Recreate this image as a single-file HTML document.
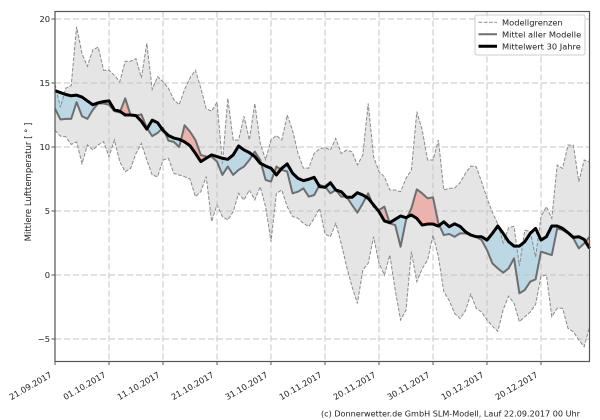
<!DOCTYPE html>
<html>
<head>
<meta charset="utf-8">
<style>
  html, body { margin:0; padding:0; background:#ffffff; }
  body { width:600px; height:420px; overflow:hidden; }
  svg { display:block; }
  text { font-family: "DejaVu Sans", "Liberation Sans", sans-serif; fill:#222; }
</style>
</head>
<body>
<svg width="600" height="420" viewBox="0 0 600 420" xmlns="http://www.w3.org/2000/svg">
  <rect x="0" y="0" width="600" height="420" fill="#ffffff"/>

  <g transform="translate(55 275) scale(5.4 -12.8)">
    <defs>
      <clipPath id="belowC" clipPathUnits="userSpaceOnUse">
        <polygon points="0,14.4 1,14.25 2,14.1 3,14 4,14.05 5,13.9 6,13.6 7,13.3 8,13.45 9,13.55 10,13.6 11,12.9 12,12.8 13,12.5 14,12.5 15,12.45 16,12 17,11.4 18,12.1 19,11.9 20,11.3 21,10.9 22,10.7 23,10.6 24,10.4 25,10.1 26,9.51 27,8.86 28,9.12 29,9.38 30,9.25 31,9.12 32,9.04 33,9.38 34,10.08 35,9.77 36,9.56 37,9.25 38,8.73 39,8.52 40,8.34 41,7.82 42,8.34 43,8.68 44,7.95 45,7.55 46,7.37 47,7.48 48,7.63 49,6.9 50,6.85 51,7.21 52,6.64 53,6.51 54,6.07 55,6.07 56,6.43 57,6.25 58,5.99 59,5.47 60,4.95 61,4.22 62,4.09 63,4.35 64,4.61 65,4.48 66,4.69 67,4.42 68,3.9 69,3.98 70,3.98 71,3.82 72,4.16 73,3.77 74,4 75,3.8 76,3.38 77,3.12 78,2.99 79,2.99 80,2.73 81,3.25 82,3.83 83,3.25 84,2.6 85,2.26 86,2.26 87,2.6 88,3.25 89,3.64 90,2.73 91,2.99 92,3.83 93,3.83 94,3.64 95,3.31 96,2.94 97,2.99 98,2.78 99,2.08 99,-10 0,-10"/>
      </clipPath>
      <clipPath id="aboveC" clipPathUnits="userSpaceOnUse">
        <polygon points="0,14.4 1,14.25 2,14.1 3,14 4,14.05 5,13.9 6,13.6 7,13.3 8,13.45 9,13.55 10,13.6 11,12.9 12,12.8 13,12.5 14,12.5 15,12.45 16,12 17,11.4 18,12.1 19,11.9 20,11.3 21,10.9 22,10.7 23,10.6 24,10.4 25,10.1 26,9.51 27,8.86 28,9.12 29,9.38 30,9.25 31,9.12 32,9.04 33,9.38 34,10.08 35,9.77 36,9.56 37,9.25 38,8.73 39,8.52 40,8.34 41,7.82 42,8.34 43,8.68 44,7.95 45,7.55 46,7.37 47,7.48 48,7.63 49,6.9 50,6.85 51,7.21 52,6.64 53,6.51 54,6.07 55,6.07 56,6.43 57,6.25 58,5.99 59,5.47 60,4.95 61,4.22 62,4.09 63,4.35 64,4.61 65,4.48 66,4.69 67,4.42 68,3.9 69,3.98 70,3.98 71,3.82 72,4.16 73,3.77 74,4 75,3.8 76,3.38 77,3.12 78,2.99 79,2.99 80,2.73 81,3.25 82,3.83 83,3.25 84,2.6 85,2.26 86,2.26 87,2.6 88,3.25 89,3.64 90,2.73 91,2.99 92,3.83 93,3.83 94,3.64 95,3.31 96,2.94 97,2.99 98,2.78 99,2.08 99,30 0,30"/>
      </clipPath>
    </defs>

    <!-- model range band -->
    <polygon fill="#d3d3d3" fill-opacity="0.6" stroke="none"
      points="0,14.9 1,13.1 2,14.6 3,14.8 4,19.4 5,17.3 6,16.3 7,17.6 8,17.8 9,16 10,16 11,15.6 12,15.1 13,16.7 14,16.7 15,16.9 16,15.4 17,18.1 18,14.5 19,15.5 20,15.1 21,14.6 22,13.7 23,13.3 24,14.5 25,15.4 26,16 27,14.6 28,13 29,12.8 30,13.5 31,8.7 32,13.8 33,10.55 34,10.55 35,12.4 36,10.55 37,13.4 38,10.3 39,9 40,10.55 41,10.9 42,10.55 43,12.5 44,11.3 45,9.5 46,8.35 47,8.35 48,9.5 49,9.85 50,9.95 51,9.76 52,10.67 53,9.5 54,9.76 55,9.63 56,8.6 57,9.37 58,13.4 59,9.24 60,8.07 61,7.68 62,6.64 63,6.64 64,6.51 65,7.55 66,8.2 67,12.76 68,11.33 69,8.98 70,8.98 71,10.54 72,6.64 73,6.77 74,6.8 75,7.2 76,7.94 77,8.51 78,8.46 79,7.29 80,6 81,4.9 82,4 83,2.5 84,3.7 85,3.8 86,0.7 87,3.5 88,3.4 89,1.4 90,4.56 91,5.34 92,4.43 93,8.59 94,8.33 95,10.15 96,10.15 97,7.29 98,8.98 99,8.85 99,-4 98,-5.6 97,-5.08 96,-4.43 95,-4.17 94,-2.6 93,-2.6 92,-3.26 91,0 90,-0.1 89,-2.3 88,-2.9 87,-3.26 86,-3.65 85,-2.2 84,-1.65 83,-2.7 82,-4.4 81,-4 80,-3.5 79,-2.9 78,-2.6 77,-1.5 76,-2.8 75,-3.4 74,-3 73,-2 72,-1.3 71,1.43 70,3.12 69,1.17 68,0.5 67,-0.52 66,1.82 65,-2.74 64,-3.52 63,-1.17 62,1.56 61,0 60,0.91 59,2.99 58,0.91 57,0.39 56,-2.22 55,-0.91 54,0.65 53,2.47 52,4.03 51,2.99 50,3.2 49,5.2 48,4.43 47,3.78 46,4.04 45,4.43 44,4.56 43,5.34 42,6.64 41,6.38 40,2.6 39,5.34 38,6.9 37,5.86 36,6.64 35,5.86 34,6.38 33,4.95 32,4.3 31,4.56 30,5.47 29,4.17 28,7.69 27,6.51 26,6.12 25,7.5 24,7.68 23,7.81 22,7.94 21,9.11 20,8.98 19,7.68 18,7.81 17,8.98 16,10.29 15,9.5 14,8.33 13,8.07 12,8.85 11,10.55 10,9.24 9,10.42 8,10.16 7,9.77 6,10.16 5,8.7 4,10.4 3,10.2 2,10.8 1,10.85 0,11.3"/>

    <!-- blue: model mean below 30y mean -->
    <polygon clip-path="url(#belowC)" fill="#9fcfe3" fill-opacity="0.6" stroke="none"
      points="0,13 1,12.15 2,12.2 3,12.2 4,13.5 5,12.4 6,12.2 7,12.9 8,13.4 9,13.4 10,13.3 11,12.8 12,12.7 13,13.8 14,12.5 15,12.45 16,12.55 17,11.5 18,10.85 19,11.1 20,11.5 21,10.5 22,10.4 23,10 24,11.7 25,11.2 26,10.55 27,9.38 28,9.25 29,9.25 30,8.86 31,7.82 32,8.47 33,7.82 34,8.21 35,8.47 36,8.99 37,9.64 38,8.99 39,7.43 40,7.3 41,8.47 42,8.21 43,8.08 44,6.38 45,6.51 46,6.77 47,6.12 48,6.25 49,7.04 50,6.9 51,6.38 52,6.64 53,6.12 54,6.12 55,5.47 56,4.87 57,5.6 58,6.38 59,5.34 60,5.08 61,5.34 62,4.03 63,3.9 64,2.21 65,4.29 66,5.21 67,6.69 68,6.38 69,5.99 70,6.07 71,4.03 72,3.12 73,3.2 74,2.99 75,3.25 76,3.25 77,3.12 78,2.99 79,2.73 80,1.95 81,0.91 82,0.52 83,0.18 84,0.52 85,1.3 86,-1.43 87,-1.17 88,-0.52 89,-0.34 90,1.82 91,1.69 92,1.56 93,3.64 94,3.51 95,3.25 96,2.86 97,2.08 98,2.47 99,2.99 99,30 0,30"/>

    <!-- red: model mean above 30y mean -->
    <polygon clip-path="url(#aboveC)" fill="#f4897b" fill-opacity="0.55" stroke="none"
      points="0,13 1,12.15 2,12.2 3,12.2 4,13.5 5,12.4 6,12.2 7,12.9 8,13.4 9,13.4 10,13.3 11,12.8 12,12.7 13,13.8 14,12.5 15,12.45 16,12.55 17,11.5 18,10.85 19,11.1 20,11.5 21,10.5 22,10.4 23,10 24,11.7 25,11.2 26,10.55 27,9.38 28,9.25 29,9.25 30,8.86 31,7.82 32,8.47 33,7.82 34,8.21 35,8.47 36,8.99 37,9.64 38,8.99 39,7.43 40,7.3 41,8.47 42,8.21 43,8.08 44,6.38 45,6.51 46,6.77 47,6.12 48,6.25 49,7.04 50,6.9 51,6.38 52,6.64 53,6.12 54,6.12 55,5.47 56,4.87 57,5.6 58,6.38 59,5.34 60,5.08 61,5.34 62,4.03 63,3.9 64,2.21 65,4.29 66,5.21 67,6.69 68,6.38 69,5.99 70,6.07 71,4.03 72,3.12 73,3.2 74,2.99 75,3.25 76,3.25 77,3.12 78,2.99 79,2.73 80,1.95 81,0.91 82,0.52 83,0.18 84,0.52 85,1.3 86,-1.43 87,-1.17 88,-0.52 89,-0.34 90,1.82 91,1.69 92,1.56 93,3.64 94,3.51 95,3.25 96,2.86 97,2.08 98,2.47 99,2.99 99,-10 0,-10"/>
  </g>

  <!-- grid -->
  <g stroke="#c4c4c4" stroke-width="1" stroke-dasharray="6,3" fill="none">
    <line x1="55" y1="19" x2="589.5" y2="19"/>
    <line x1="55" y1="83" x2="589.5" y2="83"/>
    <line x1="55" y1="147" x2="589.5" y2="147"/>
    <line x1="55" y1="211" x2="589.5" y2="211"/>
    <line x1="55" y1="275" x2="589.5" y2="275"/>
    <line x1="55" y1="339" x2="589.5" y2="339"/>
    <line x1="109" y1="11.5" x2="109" y2="361.5"/>
    <line x1="163" y1="11.5" x2="163" y2="361.5"/>
    <line x1="217" y1="11.5" x2="217" y2="361.5"/>
    <line x1="271" y1="11.5" x2="271" y2="361.5"/>
    <line x1="325" y1="11.5" x2="325" y2="361.5"/>
    <line x1="379" y1="11.5" x2="379" y2="361.5"/>
    <line x1="433" y1="11.5" x2="433" y2="361.5"/>
    <line x1="487" y1="11.5" x2="487" y2="361.5"/>
    <line x1="541" y1="11.5" x2="541" y2="361.5"/>
  </g>

  <g transform="translate(55 275) scale(5.4 -12.8)" fill="none">
    <!-- model limits (dashed) -->
    <polyline vector-effect="non-scaling-stroke" stroke="#8a8a8a" stroke-width="1" stroke-dasharray="3.7,1.6"
      points="0,14.9 1,13.1 2,14.6 3,14.8 4,19.4 5,17.3 6,16.3 7,17.6 8,17.8 9,16 10,16 11,15.6 12,15.1 13,16.7 14,16.7 15,16.9 16,15.4 17,18.1 18,14.5 19,15.5 20,15.1 21,14.6 22,13.7 23,13.3 24,14.5 25,15.4 26,16 27,14.6 28,13 29,12.8 30,13.5 31,8.7 32,13.8 33,10.55 34,10.55 35,12.4 36,10.55 37,13.4 38,10.3 39,9 40,10.55 41,10.9 42,10.55 43,12.5 44,11.3 45,9.5 46,8.35 47,8.35 48,9.5 49,9.85 50,9.95 51,9.76 52,10.67 53,9.5 54,9.76 55,9.63 56,8.6 57,9.37 58,13.4 59,9.24 60,8.07 61,7.68 62,6.64 63,6.64 64,6.51 65,7.55 66,8.2 67,12.76 68,11.33 69,8.98 70,8.98 71,10.54 72,6.64 73,6.77 74,6.8 75,7.2 76,7.94 77,8.51 78,8.46 79,7.29 80,6 81,4.9 82,4 83,2.5 84,3.7 85,3.8 86,0.7 87,3.5 88,3.4 89,1.4 90,4.56 91,5.34 92,4.43 93,8.59 94,8.33 95,10.15 96,10.15 97,7.29 98,8.98 99,8.85"/>
    <polyline vector-effect="non-scaling-stroke" stroke="#8a8a8a" stroke-width="1" stroke-dasharray="3.7,1.6"
      points="0,11.3 1,10.85 2,10.8 3,10.2 4,10.4 5,8.7 6,10.16 7,9.77 8,10.16 9,10.42 10,9.24 11,10.55 12,8.85 13,8.07 14,8.33 15,9.5 16,10.29 17,8.98 18,7.81 19,7.68 20,8.98 21,9.11 22,7.94 23,7.81 24,7.68 25,7.5 26,6.12 27,6.51 28,7.69 29,4.17 30,5.47 31,4.56 32,4.3 33,4.95 34,6.38 35,5.86 36,6.64 37,5.86 38,6.9 39,5.34 40,2.6 41,6.38 42,6.64 43,5.34 44,4.56 45,4.43 46,4.04 47,3.78 48,4.43 49,5.2 50,3.2 51,2.99 52,4.03 53,2.47 54,0.65 55,-0.91 56,-2.22 57,0.39 58,0.91 59,2.99 60,0.91 61,0 62,1.56 63,-1.17 64,-3.52 65,-2.74 66,1.82 67,-0.52 68,0.5 69,1.17 70,3.12 71,1.43 72,-1.3 73,-2 74,-3 75,-3.4 76,-2.8 77,-1.5 78,-2.6 79,-2.9 80,-3.5 81,-4 82,-4.4 83,-2.7 84,-1.65 85,-2.2 86,-3.65 87,-3.26 88,-2.9 89,-2.3 90,-0.1 91,0 92,-3.26 93,-2.6 94,-2.6 95,-4.17 96,-4.43 97,-5.08 98,-5.6 99,-4"/>

    <!-- mean of all models -->
    <polyline vector-effect="non-scaling-stroke" stroke="#6e6e6e" stroke-width="2" stroke-linejoin="round"
      points="0,13 1,12.15 2,12.2 3,12.2 4,13.5 5,12.4 6,12.2 7,12.9 8,13.4 9,13.4 10,13.3 11,12.8 12,12.7 13,13.8 14,12.5 15,12.45 16,12.55 17,11.5 18,10.85 19,11.1 20,11.5 21,10.5 22,10.4 23,10 24,11.7 25,11.2 26,10.55 27,9.38 28,9.25 29,9.25 30,8.86 31,7.82 32,8.47 33,7.82 34,8.21 35,8.47 36,8.99 37,9.64 38,8.99 39,7.43 40,7.3 41,8.47 42,8.21 43,8.08 44,6.38 45,6.51 46,6.77 47,6.12 48,6.25 49,7.04 50,6.9 51,6.38 52,6.64 53,6.12 54,6.12 55,5.47 56,4.87 57,5.6 58,6.38 59,5.34 60,5.08 61,5.34 62,4.03 63,3.9 64,2.21 65,4.29 66,5.21 67,6.69 68,6.38 69,5.99 70,6.07 71,4.03 72,3.12 73,3.2 74,2.99 75,3.25 76,3.25 77,3.12 78,2.99 79,2.73 80,1.95 81,0.91 82,0.52 83,0.18 84,0.52 85,1.3 86,-1.43 87,-1.17 88,-0.52 89,-0.34 90,1.82 91,1.69 92,1.56 93,3.64 94,3.51 95,3.25 96,2.86 97,2.08 98,2.47 99,2.99"/>

    <!-- 30 year mean -->
    <polyline vector-effect="non-scaling-stroke" stroke="#000000" stroke-width="3" stroke-linejoin="round"
      points="0,14.4 1,14.25 2,14.1 3,14 4,14.05 5,13.9 6,13.6 7,13.3 8,13.45 9,13.55 10,13.6 11,12.9 12,12.8 13,12.5 14,12.5 15,12.45 16,12 17,11.4 18,12.1 19,11.9 20,11.3 21,10.9 22,10.7 23,10.6 24,10.4 25,10.1 26,9.51 27,8.86 28,9.12 29,9.38 30,9.25 31,9.12 32,9.04 33,9.38 34,10.08 35,9.77 36,9.56 37,9.25 38,8.73 39,8.52 40,8.34 41,7.82 42,8.34 43,8.68 44,7.95 45,7.55 46,7.37 47,7.48 48,7.63 49,6.9 50,6.85 51,7.21 52,6.64 53,6.51 54,6.07 55,6.07 56,6.43 57,6.25 58,5.99 59,5.47 60,4.95 61,4.22 62,4.09 63,4.35 64,4.61 65,4.48 66,4.69 67,4.42 68,3.9 69,3.98 70,3.98 71,3.82 72,4.16 73,3.77 74,4 75,3.8 76,3.38 77,3.12 78,2.99 79,2.99 80,2.73 81,3.25 82,3.83 83,3.25 84,2.6 85,2.26 86,2.26 87,2.6 88,3.25 89,3.64 90,2.73 91,2.99 92,3.83 93,3.83 94,3.64 95,3.31 96,2.94 97,2.99 98,2.78 99,2.08"/>
  </g>

  <!-- spines -->
  <rect x="55" y="11.5" width="534.5" height="350" fill="none" stroke="#555" stroke-width="1.2"/>

  <!-- ticks -->
  <g stroke="#555" stroke-width="1">
    <line x1="51.5" y1="19" x2="55" y2="19"/>
    <line x1="51.5" y1="83" x2="55" y2="83"/>
    <line x1="51.5" y1="147" x2="55" y2="147"/>
    <line x1="51.5" y1="211" x2="55" y2="211"/>
    <line x1="51.5" y1="275" x2="55" y2="275"/>
    <line x1="51.5" y1="339" x2="55" y2="339"/>
    <line x1="55" y1="361.5" x2="55" y2="365"/>
    <line x1="109" y1="361.5" x2="109" y2="365"/>
    <line x1="163" y1="361.5" x2="163" y2="365"/>
    <line x1="217" y1="361.5" x2="217" y2="365"/>
    <line x1="271" y1="361.5" x2="271" y2="365"/>
    <line x1="325" y1="361.5" x2="325" y2="365"/>
    <line x1="379" y1="361.5" x2="379" y2="365"/>
    <line x1="433" y1="361.5" x2="433" y2="365"/>
    <line x1="487" y1="361.5" x2="487" y2="365"/>
    <line x1="541" y1="361.5" x2="541" y2="365"/>
  </g>

  <!-- y tick labels -->
  <g font-size="8.3" text-anchor="end">
    <text x="50" y="22">20</text>
    <text x="50" y="86">15</text>
    <text x="50" y="150">10</text>
    <text x="50" y="214">5</text>
    <text x="50" y="278">0</text>
    <text x="50" y="342">−5</text>
  </g>

  <!-- x tick labels -->
  <g font-size="8.3" text-anchor="end">
    <text transform="translate(52.5 376.5) rotate(-30)">21.09.2017</text>
    <text transform="translate(106.5 376.5) rotate(-30)">01.10.2017</text>
    <text transform="translate(160.5 376.5) rotate(-30)">11.10.2017</text>
    <text transform="translate(214.5 376.5) rotate(-30)">21.10.2017</text>
    <text transform="translate(268.5 376.5) rotate(-30)">31.10.2017</text>
    <text transform="translate(322.5 376.5) rotate(-30)">10.11.2017</text>
    <text transform="translate(376.5 376.5) rotate(-30)">20.11.2017</text>
    <text transform="translate(430.5 376.5) rotate(-30)">30.11.2017</text>
    <text transform="translate(484.5 376.5) rotate(-30)">10.12.2017</text>
    <text transform="translate(538.5 376.5) rotate(-30)">20.12.2017</text>
  </g>

  <!-- y axis label -->
  <text font-size="8.5" text-anchor="middle" transform="translate(31 182) rotate(-90)">Mittlere Lufttemperatur [ ° ]</text>

  <!-- legend -->
  <rect x="475" y="15" width="110" height="40" rx="2" ry="2" fill="#ffffff" fill-opacity="0.85" stroke="#cccccc" stroke-width="1"/>
  <line x1="478.5" y1="22.3" x2="497" y2="22.3" stroke="#8a8a8a" stroke-width="1" stroke-dasharray="3.7,1.6"/>
  <line x1="478.5" y1="34.3" x2="497" y2="34.3" stroke="#6e6e6e" stroke-width="2"/>
  <line x1="478.5" y1="46.3" x2="497" y2="46.3" stroke="#000000" stroke-width="3"/>
  <g font-size="8.3">
    <text x="502" y="25.3">Modellgrenzen</text>
    <text x="502" y="37.3">Mittel aller Modelle</text>
    <text x="502" y="49.3">Mittelwert 30 Jahre</text>
  </g>

  <!-- footer -->
  <text x="321" y="416.5" font-size="8.1" textLength="259" lengthAdjust="spacing">(c) Donnerwetter.de GmbH SLM-Modell, Lauf 22.09.2017 00 Uhr</text>
</svg>
</body>
</html>
